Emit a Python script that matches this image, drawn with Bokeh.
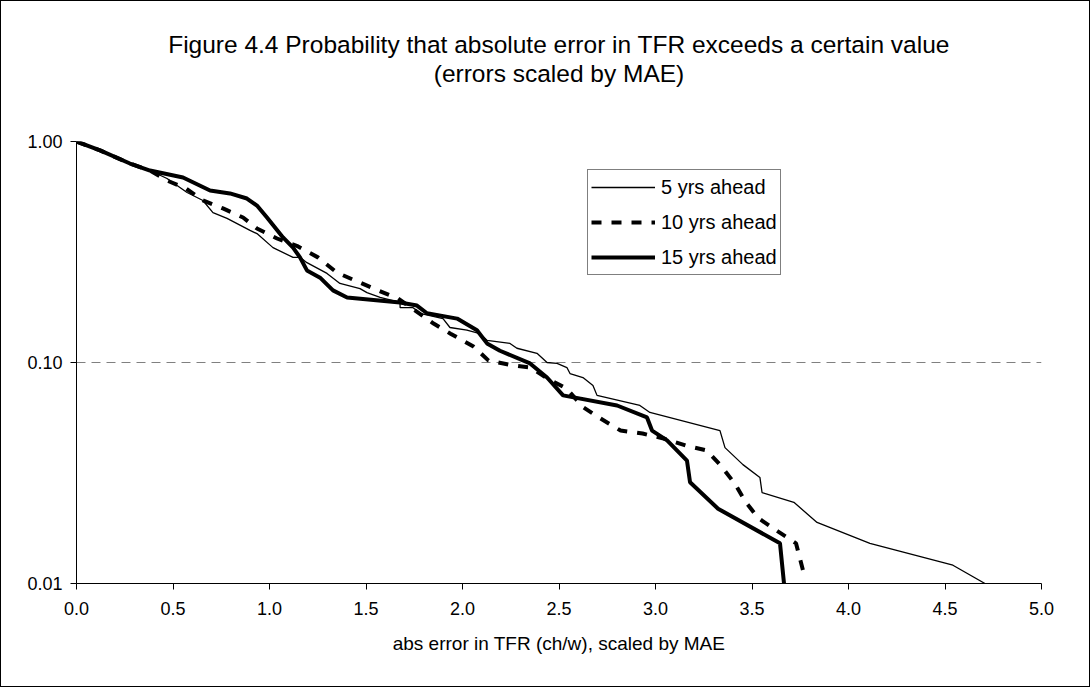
from bokeh.plotting import figure
from bokeh.models import FixedTicker, Legend, LegendItem, Title
from bokeh.embed import file_html
from bokeh.resources import INLINE

# ---- data ----
x_5 = [0.0, 0.122, 0.277, 0.381, 0.469, 0.573, 0.655, 0.707, 0.780, 0.899, 0.935, 1.018,
       1.122, 1.158, 1.194, 1.298, 1.365, 1.469, 1.505, 1.573, 1.676, 1.677, 1.744, 1.780,
       1.899, 1.935, 2.023, 2.090, 2.127, 2.246, 2.282, 2.386, 2.438, 2.490, 2.541, 2.557,
       2.624, 2.676, 2.697, 2.919, 2.971, 3.334, 3.360, 3.453, 3.541, 3.552, 3.717, 3.837,
       4.111, 4.541, 4.707, 4.75]
y_5 = [1.0, 0.911, 0.795, 0.739, 0.680, 0.588, 0.541, 0.477, 0.449, 0.396, 0.383, 0.331,
       0.299, 0.299, 0.283, 0.253, 0.228, 0.216, 0.207, 0.197, 0.187, 0.177, 0.177, 0.167,
       0.158, 0.144, 0.140, 0.135, 0.126, 0.122, 0.116, 0.110, 0.100, 0.0990, 0.0949, 0.0891,
       0.0855, 0.0787, 0.0710, 0.0639, 0.0594, 0.0492, 0.0412, 0.0345, 0.0302, 0.0258, 0.0233, 0.0189,
       0.0152, 0.0121, 0.0100, 0.0095]

x_10 = [0.0, 0.122, 0.277, 0.381, 0.469, 0.568, 0.655, 0.759, 0.863, 0.935, 1.039, 1.148,
        1.251, 1.350, 1.453, 1.562, 1.666, 1.850, 1.938, 2.057, 2.135, 2.249, 2.352, 2.440,
        2.539, 2.627, 2.715, 2.819, 2.933, 3.042, 3.156, 3.265, 3.338, 3.411, 3.468, 3.535,
        3.634, 3.728, 3.764]
y_10 = [1.0, 0.911, 0.795, 0.739, 0.666, 0.613, 0.541, 0.498, 0.453, 0.404, 0.364, 0.335,
        0.299, 0.255, 0.233, 0.212, 0.195, 0.150, 0.135, 0.118, 0.102, 0.0974, 0.0949, 0.0847,
        0.0762, 0.0626, 0.0558, 0.0492, 0.0477, 0.0453, 0.0421, 0.0400, 0.0342, 0.0283, 0.0233, 0.0197,
        0.0172, 0.0152, 0.0115]

x_15 = [0.0, 0.122, 0.277, 0.381, 0.552, 0.692, 0.795, 0.883, 0.935, 0.987, 1.070, 1.122,
        1.158, 1.194, 1.262, 1.329, 1.402, 1.676, 1.764, 1.816, 1.972, 2.075, 2.127, 2.194,
        2.350, 2.438, 2.521, 2.801, 2.956, 2.982, 3.060, 3.163, 3.179, 3.324, 3.645, 3.67]
y_15 = [1.0, 0.911, 0.795, 0.739, 0.687, 0.600, 0.582, 0.552, 0.513, 0.453, 0.368, 0.331,
        0.299, 0.261, 0.242, 0.212, 0.197, 0.187, 0.181, 0.167, 0.158, 0.140, 0.122, 0.113,
        0.099, 0.0855, 0.071, 0.0639, 0.0564, 0.0492, 0.0444, 0.0360, 0.0287, 0.0218, 0.0152, 0.0092]

series_names = ["5 yrs ahead", "10 yrs ahead", "15 yrs ahead"]

x_ticks = [0.0, 0.5, 1.0, 1.5, 2.0, 2.5, 3.0, 3.5, 4.0, 4.5, 5.0]
x_tick_labels = ["0.0", "0.5", "1.0", "1.5", "2.0", "2.5", "3.0", "3.5", "4.0", "4.5", "5.0"]
y_ticks = [0.01, 0.1, 1.0]
y_tick_labels = ["0.01", "0.10", "1.00"]

title_lines = ["Figure 4.4 Probability that absolute error in TFR exceeds a certain value",
               "(errors scaled by MAE)"]
x_label = "abs error in TFR (ch/w), scaled by MAE"

FONT = "Liberation Sans"

p = figure(width=1090, height=687, y_axis_type="log",
           x_range=(0, 5), y_range=(0.01, 1.0),
           output_backend="svg", toolbar_location=None,
           min_border_left=75, min_border_right=50,
           min_border_top=140, min_border_bottom=105)
p.styles = {"border": "1px solid #000000", "position": "absolute", "top": "0px", "left": "0px"}
p.outline_line_color = None
p.background_fill_color = "white"
p.border_fill_color = "white"

# title block: spacer nearest the frame, then line 2, then line 1 (outermost)
spacer = Title(text=" ", text_font_size="10px", standoff=42)
p.add_layout(spacer, "above")
sub = Title(text=title_lines[1], align="center", text_font=FONT,
            text_font_size="24.5px", text_font_style="normal", text_color="black", standoff=0)
p.add_layout(sub, "above")
p.title.text = title_lines[0]
p.title.align = "center"
p.title.text_font = FONT
p.title.text_font_size = "24.5px"
p.title.text_font_style = "normal"
p.title.text_color = "black"
p.title.standoff = 0

p.xgrid.visible = False
p.ygrid.grid_line_color = "#808080"
p.ygrid.grid_line_dash = "9 6"
p.ygrid.grid_line_width = 1

# axes
p.xaxis.ticker = FixedTicker(ticks=x_ticks)
p.xaxis.major_label_overrides = {t: l for t, l in zip(x_ticks, x_tick_labels)}
p.yaxis.ticker = FixedTicker(ticks=y_ticks)
p.yaxis.major_label_overrides = {t: l for t, l in zip(y_ticks, y_tick_labels)}
for ax in (p.xaxis[0], p.yaxis[0]):
    ax.axis_line_color = "black"
    ax.axis_line_width = 1
    ax.major_tick_line_color = "black"
    ax.major_tick_in = 0
    ax.major_tick_out = 6
    ax.minor_tick_line_color = None
    ax.major_label_text_font = FONT
    ax.major_label_text_font_size = "18px"
    ax.major_label_text_color = "black"
p.xaxis.major_label_standoff = 12
p.yaxis.major_label_standoff = 8
p.xaxis.axis_label = x_label
p.xaxis.axis_label_text_font = FONT
p.xaxis.axis_label_text_font_size = "19px"
p.xaxis.axis_label_text_font_style = "normal"
p.xaxis.axis_label_text_color = "black"
p.xaxis.axis_label_standoff = 15

r5 = p.line(x_5, y_5, line_color="black", line_width=1.3)
r10 = p.line(x_10, y_10, line_color="black", line_width=4, line_dash="10 10")
r15 = p.line(x_15, y_15, line_color="black", line_width=4)

legend = Legend(items=[LegendItem(label=series_names[0], renderers=[r5]),
                       LegendItem(label=series_names[1], renderers=[r10]),
                       LegendItem(label=series_names[2], renderers=[r15])],
                location=(511, 308))
legend.border_line_color = "black"
legend.border_line_width = 1
legend.background_fill_color = "white"
legend.background_fill_alpha = 1.0
legend.label_text_font = FONT
legend.label_text_font_size = "20px"
legend.label_text_color = "black"
legend.glyph_width = 64
legend.glyph_height = 28
legend.label_height = 28
legend.label_standoff = 6
legend.label_width = 116
legend.spacing = 7
legend.padding = 3
legend.margin = 0
p.add_layout(legend)

open("out.html", "w").write(file_html(p, INLINE))
